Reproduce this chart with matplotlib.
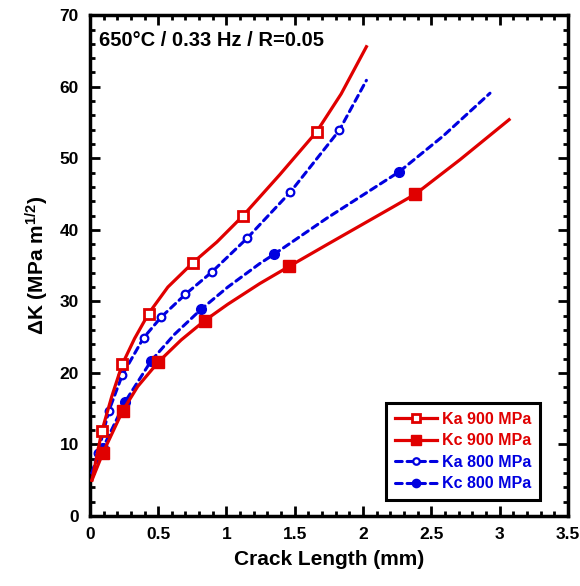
import matplotlib
matplotlib.use('Agg')
import matplotlib.pyplot as plt
import numpy as np

plt.rcParams['font.family'] = ['Liberation Sans', 'DejaVu Sans']
plt.rcParams['font.weight'] = 'bold'
plt.rcParams['mathtext.fontset'] = 'custom'
plt.rcParams['mathtext.rm'] = 'Liberation Sans:bold'
plt.rcParams['mathtext.bf'] = 'Liberation Sans:bold'
plt.rcParams['mathtext.default'] = 'bf'

# Curves (crack length mm, delta K)
ka900_x = [0.015, 0.088, 0.16, 0.237, 0.327, 0.43, 0.571, 0.754, 0.93, 1.118,
           1.39, 1.66, 1.84, 2.025]
ka900_y = [5.0, 11.9, 16.7, 21.2, 24.8, 28.3, 32.0, 35.4, 38.3, 41.9,
           47.7, 53.7, 59.0, 65.6]
ka900_marks = [1, 3, 5, 7, 9, 11]

kc900_x = [0.015, 0.095, 0.24, 0.35, 0.50, 0.668, 0.84, 1.01, 1.245, 1.46, 1.733,
           2.22, 2.384, 2.71, 3.07]
kc900_y = [5.0, 8.8, 14.7, 18.1, 21.5, 24.6, 27.3, 29.6, 32.5, 34.9, 37.9,
           43.2, 45.0, 49.8, 55.4]
kc900_marks = [1, 2, 4, 6, 9, 12]

ka800_x = [0.015, 0.059, 0.139, 0.237, 0.393, 0.522, 0.70, 0.893, 1.15, 1.469,
           1.826, 2.025]
ka800_y = [6.0, 8.8, 14.7, 19.7, 24.9, 27.8, 31.0, 34.1, 38.8, 45.3,
           53.9, 60.9]
ka800_marks = [1, 2, 3, 4, 5, 6, 7, 8, 9, 10]

kc800_x = [0.015, 0.095, 0.259, 0.449, 0.62, 0.815, 1.01, 1.245, 1.35, 1.733, 2.264,
           2.586, 2.93]
kc800_y = [6.0, 9.5, 16.0, 21.7, 25.4, 28.9, 32.0, 35.3, 36.6, 41.6, 48.1,
           53.1, 59.1]
kc800_marks = [1, 2, 3, 5, 8, 10]

red = '#e00000'
blue = '#0000e0'

fig = plt.figure(figsize=(5.8, 5.86), dpi=100)
ax = fig.add_axes([0.155, 0.1195, 0.824, 0.8545])

ax.plot(ka900_x, ka900_y, '-', color=red, lw=2.3, marker='s', ms=7, mfc='white',
        mec=red, mew=2, markevery=ka900_marks, label='Ka 900 MPa', zorder=4)
ax.plot(kc900_x, kc900_y, '-', color=red, lw=2.3, marker='s', ms=8, mfc=red,
        mec=red, markevery=kc900_marks, label='Kc 900 MPa', zorder=4)
ax.plot(ka800_x, ka800_y, '--', color=blue, lw=2.2, dashes=(2.2, 1.6), dash_capstyle='round',
        marker='o', ms=5.5, mfc='white', mec=blue, mew=1.6, markevery=ka800_marks,
        label='Ka 800 MPa', zorder=3)
ax.plot(kc800_x, kc800_y, '--', color=blue, lw=2.2, dashes=(2.2, 1.6), dash_capstyle='round',
        marker='o', ms=7, mfc=blue, mec=blue, markevery=kc800_marks,
        label='Kc 800 MPa', zorder=3)

ax.set_xlim(0, 3.5)
ax.set_ylim(0, 70)
ax.set_xticks(np.arange(0, 3.51, 0.5))
ax.set_xticklabels(['0', '0.5', '1', '1.5', '2', '2.5', '3', '3.5'])
ax.set_yticks(np.arange(0, 71, 10))
ax.set_xticks(np.arange(0, 3.51, 0.1), minor=True)
ax.set_yticks(np.arange(0, 71, 2), minor=True)
ax.tick_params(which='both', direction='in', top=True, right=True, width=2)
ax.tick_params(which='major', length=7, labelsize=12.5, pad=8)
ax.tick_params(which='minor', length=3.8)
for s in ax.spines.values():
    s.set_linewidth(2.5)

ax.set_xlabel('Crack Length (mm)', fontsize=15, fontweight='bold', labelpad=6)
ax.set_ylabel('ΔK (MPa m$^{1/2}$)', fontsize=15, fontweight='bold', labelpad=6)

ax.text(0.02, 0.95, '650°C / 0.33 Hz / R=0.05', transform=ax.transAxes,
        fontsize=14.5, fontweight='bold', va='center', ha='left')

leg = ax.legend(loc='lower right', bbox_to_anchor=(0.958, 0.016), fontsize=11.5,
                fancybox=False, framealpha=1, edgecolor='black', handlelength=2.6,
                handletextpad=0.3, borderpad=0.55, labelspacing=0.4, markerscale=0.85)
leg.get_frame().set_linewidth(2.2)
for t, c in zip(leg.get_texts(), [red, red, blue, blue]):
    t.set_color(c)
    t.set_fontweight('bold')

fig.savefig('out.png', dpi=100)
